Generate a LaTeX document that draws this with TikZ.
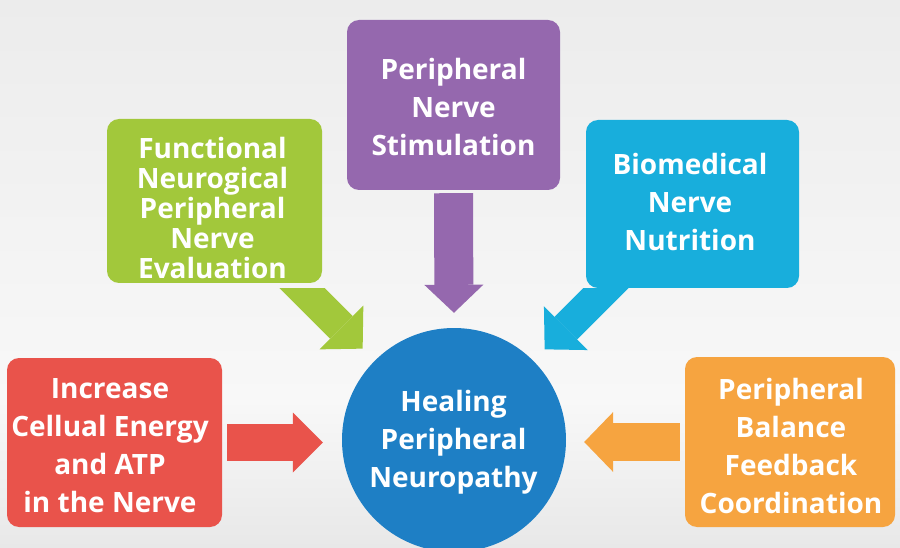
\documentclass[tikz,border=0pt]{standalone}
\usepackage{fontspec}
\setmainfont{Open Sans}[Ligatures=NoCommon]
\usetikzlibrary{arrows.meta,calc}
\definecolor{cred}{HTML}{E9534B}
\definecolor{cgreen}{HTML}{A2C83B}
\definecolor{cpurple}{HTML}{9568AE}
\definecolor{cblue}{HTML}{18AEDC}
\definecolor{chub}{HTML}{1E7FC5}
\definecolor{corange}{HTML}{F6A440}
\definecolor{bgtop}{HTML}{ECECEC}
\definecolor{bgmid}{HTML}{F8F8F8}
\definecolor{bgbot}{HTML}{E8E8E8}
\tikzset{
  box/.style={rounded corners=12pt, inner sep=0pt, draw=none},
  txt/.style={text=white, font=\fontsize{28}{38}\selectfont\bfseries, align=center, inner sep=0pt},
  txttight/.style={txt, font=\fontsize{28}{30}\selectfont\bfseries},
  straightarrow/.style={line width=#1, line cap=butt},
}
\begin{document}
\begin{tikzpicture}[x=1pt,y=-1pt]
\useasboundingbox (0,0) rectangle (900,548);
\shade[top color=bgtop, bottom color=bgmid, middle color=bgmid!50!bgtop] (0,0) rectangle (900,400);
\shade[top color=bgmid, bottom color=bgbot] (0,400) rectangle (900,548);

% hub
\node[circle, fill=chub, minimum size=224pt, inner sep=0pt] (hub) at (454,440) {};

% boxes
\node[box, fill=cred, minimum width=215pt, minimum height=169pt] (energy) at (114.5,442.5) {};
\node[box, fill=cgreen, minimum width=215pt, minimum height=164pt] (eval) at (214.5,201) {};
\node[box, fill=cpurple, minimum width=213pt, minimum height=170pt] (stim) at (453.5,105) {};
\node[box, fill=cblue, minimum width=213pt, minimum height=168pt] (nutr) at (692.5,204) {};
\node[box, fill=corange, minimum width=210pt, minimum height=170pt] (bal) at (790,442) {};

% straight arrows
\draw[cred, straightarrow=37pt, -{Triangle[width=60pt,length=30pt,line width=0pt]}, shorten <=5pt, shorten >=19pt]
  (energy.east) -- (energy.east -| hub.west);
\draw[corange, straightarrow=38pt, -{Triangle[width=60pt,length=29pt,line width=0pt]}, shorten <=5pt, shorten >=18pt]
  (bal.west) -- (bal.west -| hub.east);
\draw[cpurple, straightarrow=39pt, -{Triangle[width=59pt,length=28pt,line width=0pt]}, shorten <=3pt, shorten >=15pt]
  (stim.south) -- (hub.north);

% diagonal arrows
\coordinate (gtail) at ($(hub.135)+(-110,-110)$);
\coordinate (btail) at ($(hub.45)+(110,-110)$);
\begin{scope}
  \clip (0,289) rectangle (900,548);
  \draw[cgreen, straightarrow=32pt, -{Triangle[width=62pt,length=30pt,line width=0pt]}, shorten >=17pt]
    (gtail) -- (hub.135);
  \draw[cblue, straightarrow=32pt, -{Triangle[width=62pt,length=30pt,line width=0pt]}, shorten >=16pt]
    (btail) -- (hub.45);
\end{scope}

% texts
\node[txt] (tenergy) at (110,445.5) {Increase\\Cellual Energy\\and ATP\\in the Nerve};
\node[txttight] (teval) at (212.5,208) {Functional\\Neurogical\\Peripheral\\Nerve\\Evaluation};
\node[txt] (tstim) at (453.5,107) {Peripheral\\Nerve\\Stimulation};
\node[txt] (tnutr) at (690,202.5) {Biomedical\\Nerve\\Nutrition};
\node[txt] (tbal) at (791,445.5) {Peripheral\\Balance\\Feedback\\Coordination};
\node[txt] (thub) at (453.5,442.5) {Healing\\Peripheral\\Neuropathy};
\end{tikzpicture}
\end{document}
